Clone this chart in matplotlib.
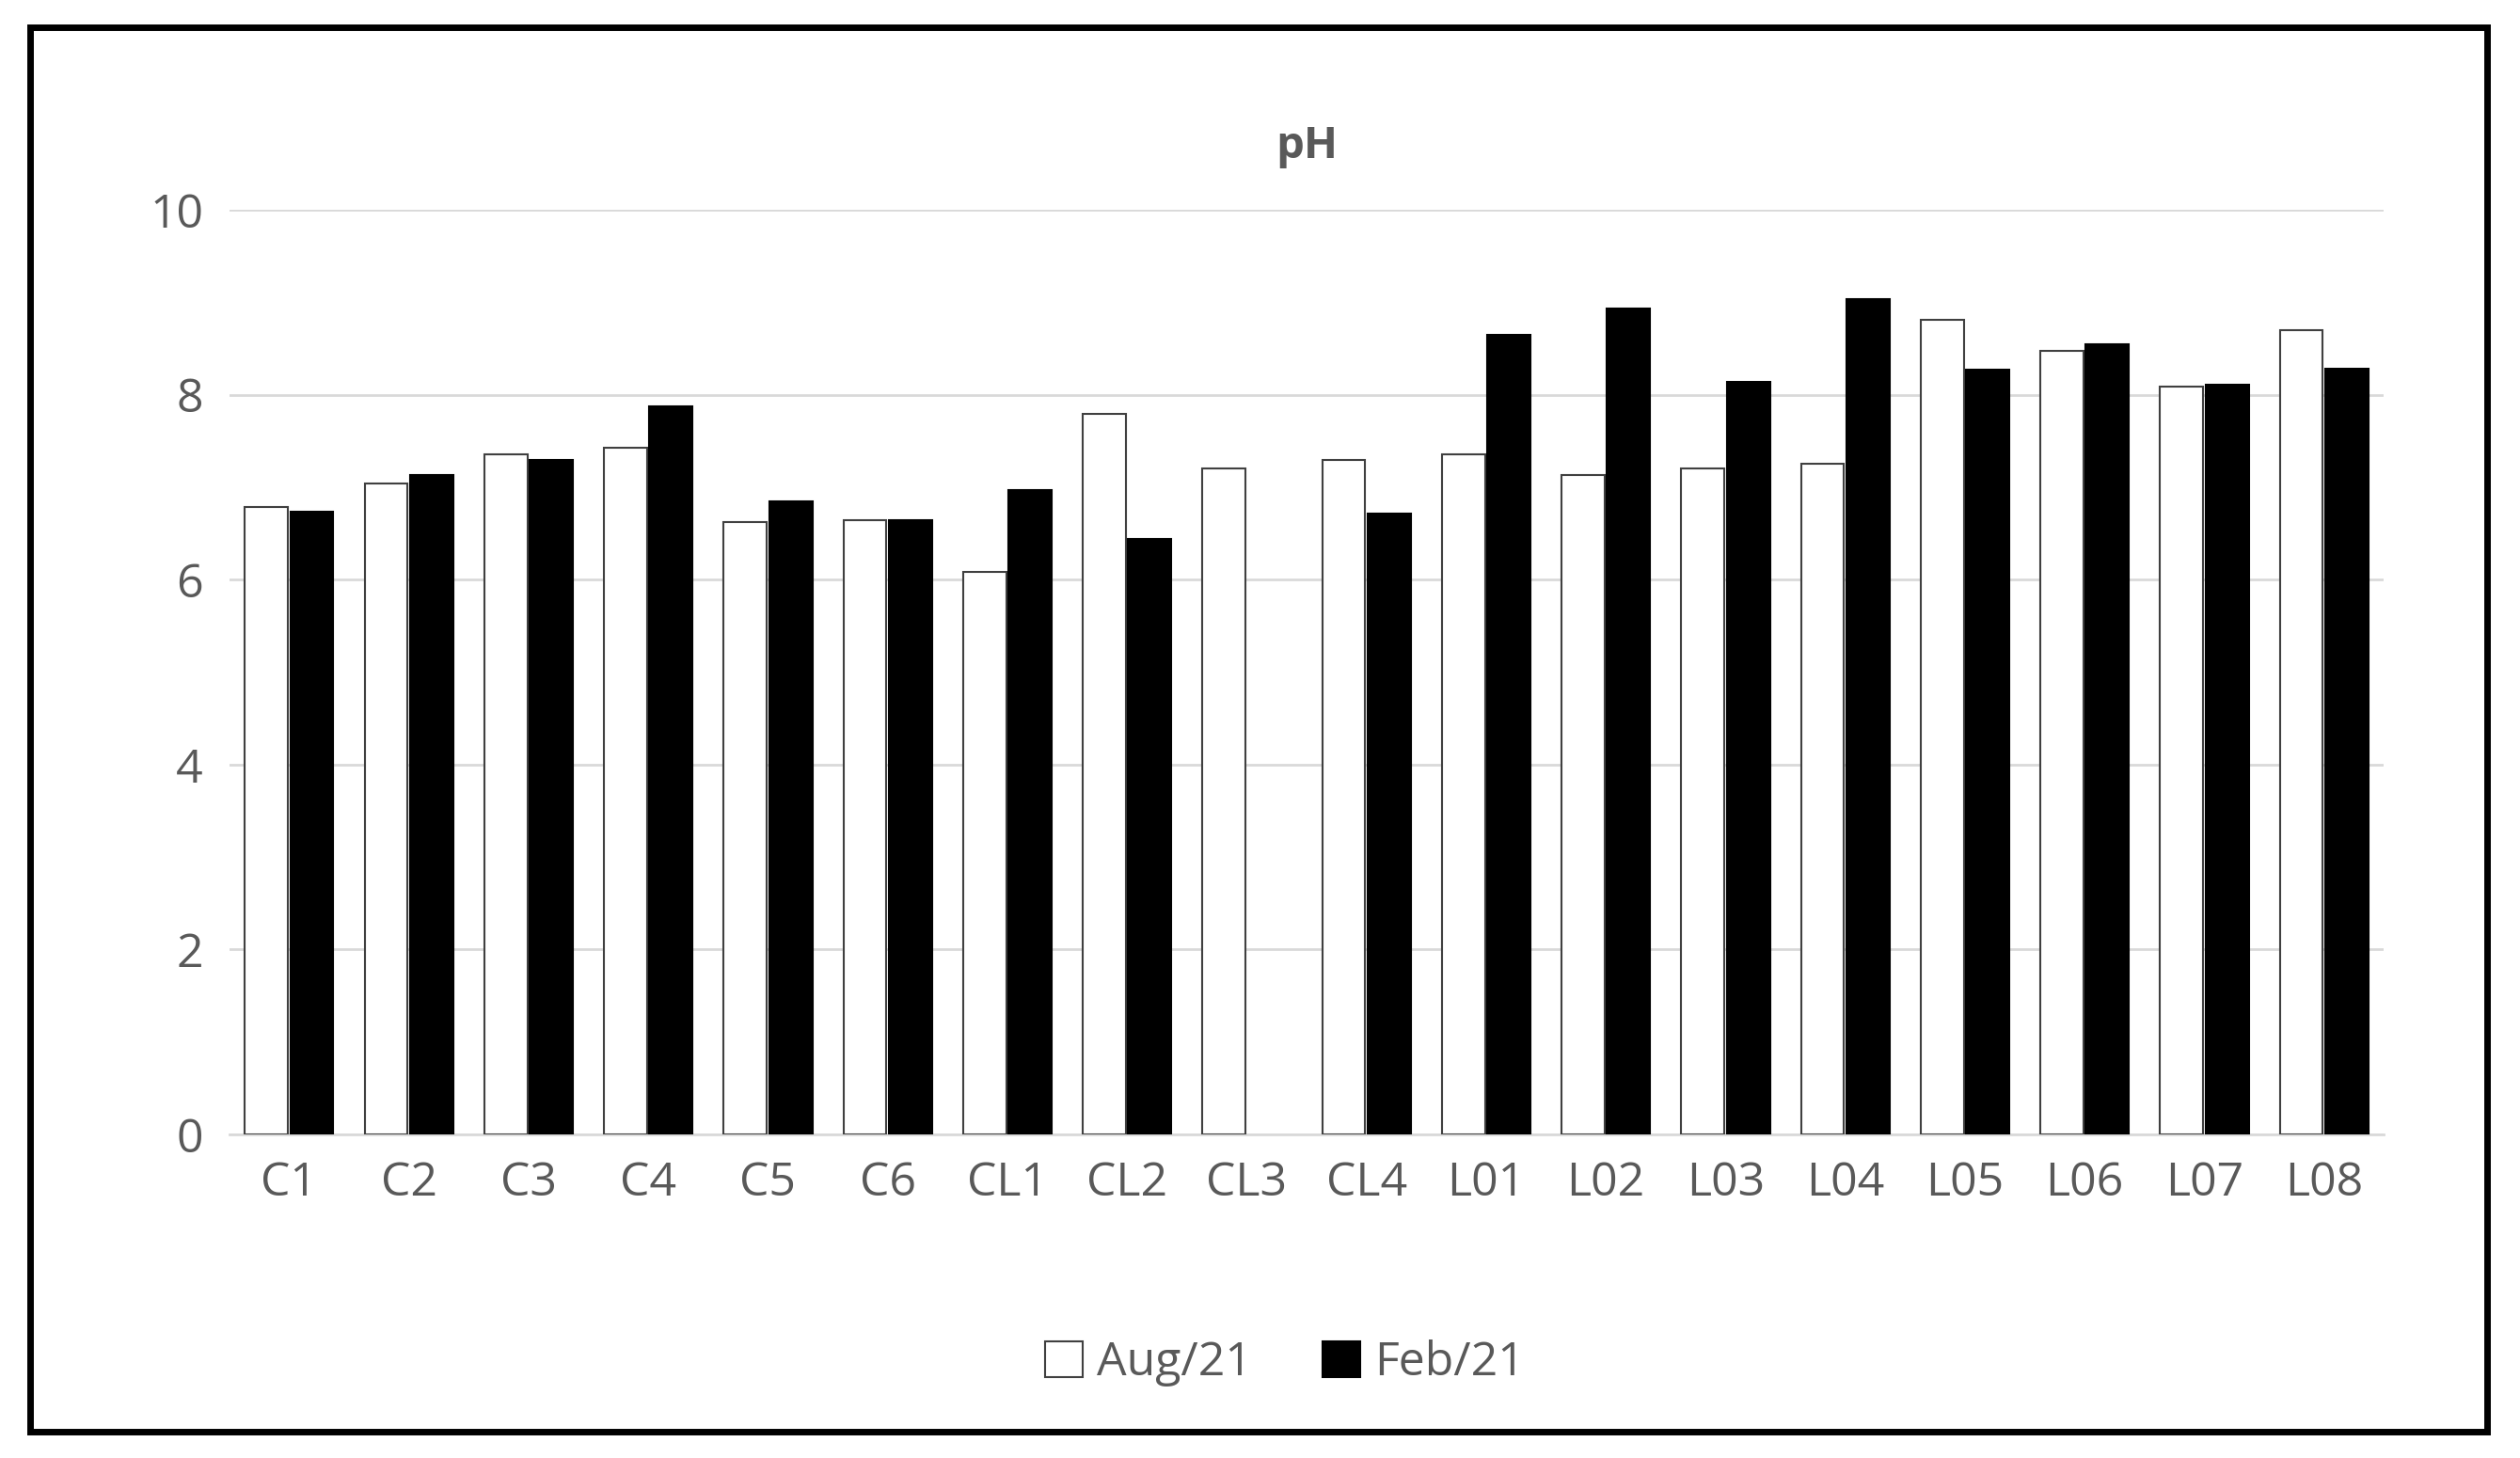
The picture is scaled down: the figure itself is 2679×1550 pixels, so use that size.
import numpy as np
import matplotlib.pyplot as plt

sites = ["C1", "C2", "C3", "C4", "C5", "C6", "CL1", "CL2", "CL3", "CL4",
         "L01", "L02", "L03", "L04", "L05", "L06", "L07", "L08"]
aug21 = [6.79, 7.04, 7.36, 7.43, 6.62, 6.64, 6.08, 7.79, 7.20, 7.30,
         7.36, 7.13, 7.20, 7.25, 8.81, 8.48, 8.09, 8.70]
feb21 = [6.74, 7.13, 7.30, 7.88, 6.85, 6.64, 6.97, 6.44, np.nan, 6.72,
         8.65, 8.93, 8.14, 9.04, 8.27, 8.55, 8.11, 8.28]

plt.rcParams['font.family'] = ['Open Sans', 'DejaVu Sans']
txt = '#595959'

fig = plt.figure(figsize=(26.79, 15.5), dpi=100)
fig.patches.append(plt.Rectangle((0.012, 0.018), 0.975, 0.963, transform=fig.transFigure,
                                 fill=False, edgecolor='black', linewidth=5))
ax = fig.add_axes([0.091, 0.222, 0.855, 0.634])

x = np.arange(len(sites))
w = 0.36
ax.bar(x - w / 2 - 0.01, aug21, w, color='white', edgecolor='#404040', linewidth=1.5, label='Aug/21', zorder=3)
ax.bar(x + w / 2 + 0.01, feb21, w, color='black', edgecolor='black', linewidth=1.5, label='Feb/21', zorder=3)

ax.set_ylim(0, 10)
ax.set_xlim(-0.5, len(sites) - 0.5)
ax.set_yticks(range(0, 11, 2))
ax.yaxis.grid(True, color='#d9d9d9', linewidth=2, zorder=0)
for s in ['top', 'right', 'left']:
    ax.spines[s].set_visible(False)
ax.spines['bottom'].set_color('#d9d9d9')
ax.spines['bottom'].set_linewidth(2)
ax.tick_params(length=0, labelsize=36, labelcolor=txt, pad=20)
ax.set_xticks(x)
ax.set_xticklabels(sites)
ax.set_title('pH', fontsize=34, fontweight='bold', color=txt, pad=40)

fig.legend(loc='center', bbox_to_anchor=(0.51, 0.065), ncol=2, frameon=False,
           fontsize=36, labelcolor=txt, handlelength=0.8, handleheight=0.8,
           columnspacing=1.5, handletextpad=0.3)

fig.savefig('out.png', dpi=100)
